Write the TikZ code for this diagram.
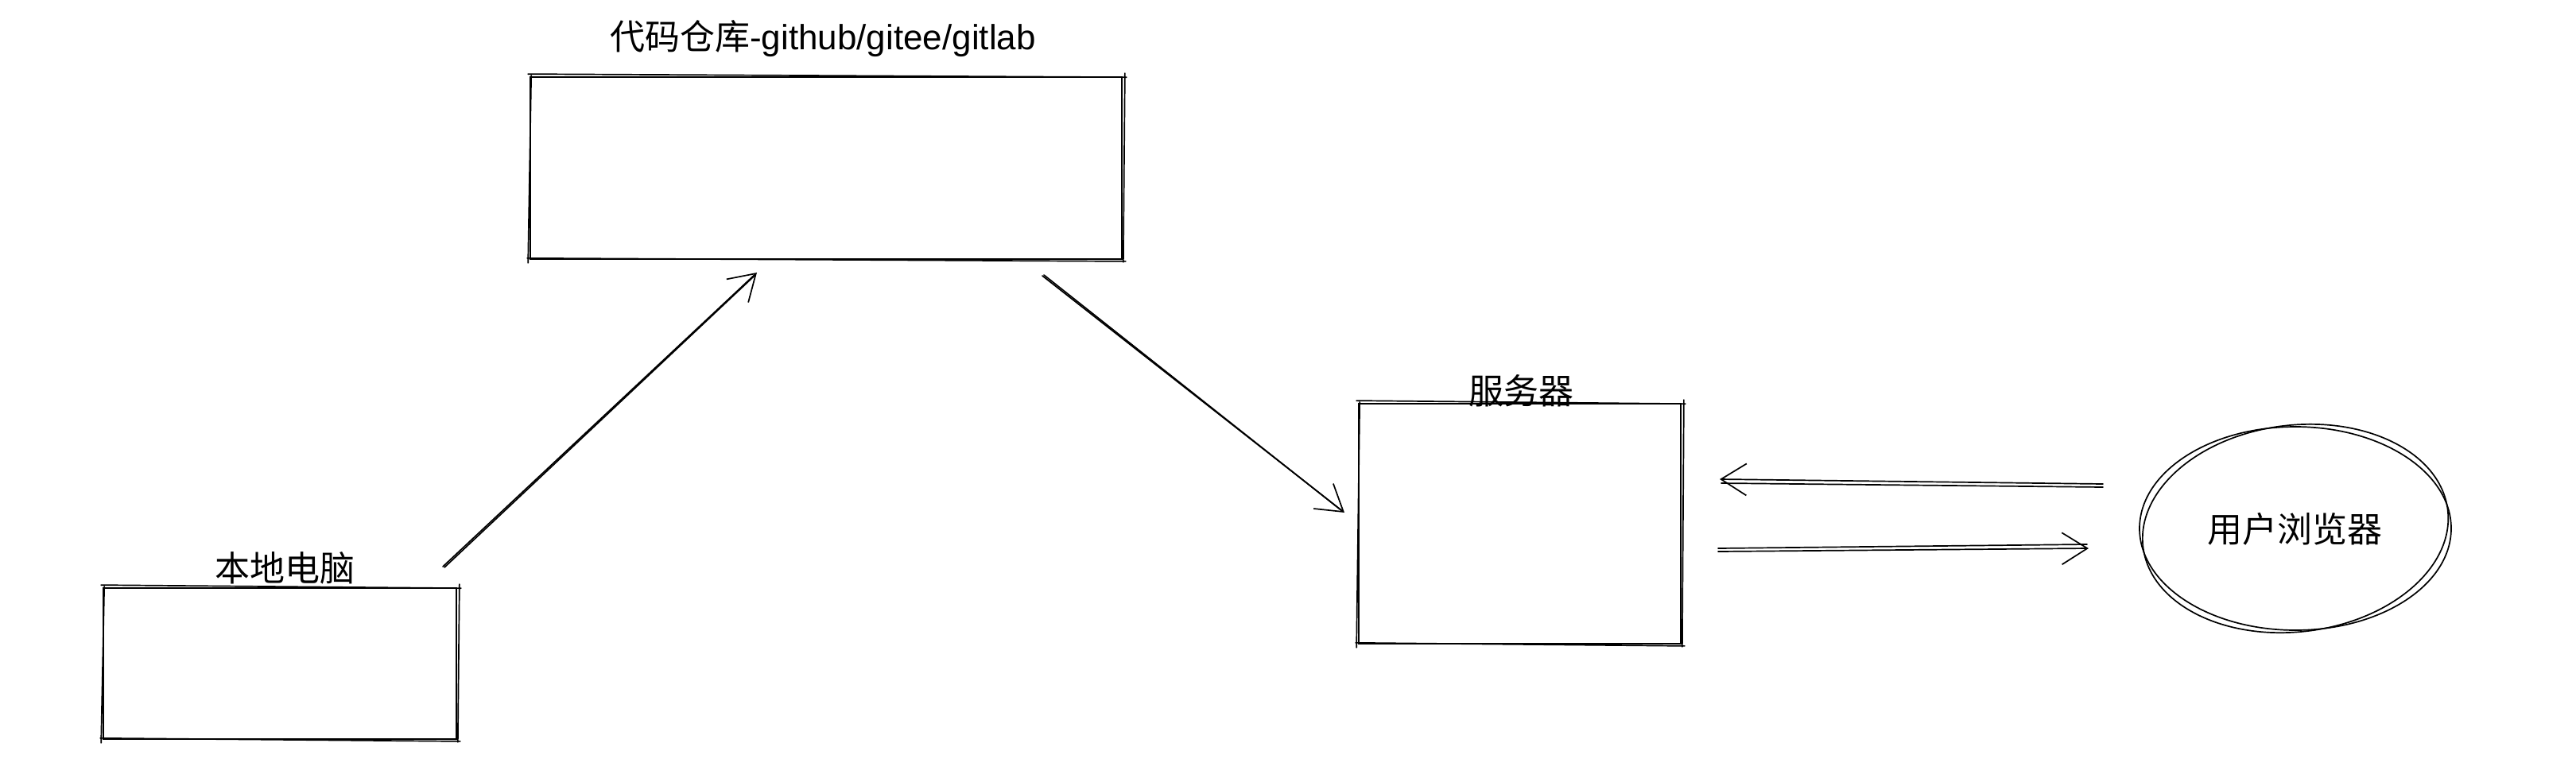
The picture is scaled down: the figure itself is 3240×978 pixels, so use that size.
\documentclass[tikz,border=0pt]{standalone}
\usepackage{fontspec}
\setmainfont{Liberation Sans}
\newfontfamily\cjk{Noto Sans CJK SC}
\usetikzlibrary{arrows.meta,shapes.geometric,calc}
\newcommand{\skrect}[1]{%
  \draw[sk] ([shift={(-2,-3)}]#1.north west) -- ([shift={(5,1)}]#1.north east)
            ([shift={(3,-4)}]#1.north east) -- ([shift={(1,3)}]#1.south east)
            ([shift={(4,2)}]#1.south east) -- ([shift={(-3,-2)}]#1.south west)
            ([shift={(-2,4)}]#1.south west) -- ([shift={(2,-1)}]#1.north west);
}
\begin{document}
\begin{tikzpicture}[x=1pt,y=-1pt,
  sk/.style={line width=1.7pt, black, line cap=round},
  box/.style={sk, draw, rectangle, inner sep=0pt},
  lbl/.style={font=\fontsize{44pt}{50pt}\selectfont, inner sep=0pt, anchor=base},
  arr/.style={sk, -{Straight Barb[length=32pt,width=40pt]}},
]
\fill[white] (0,0) rectangle (3240,978);
\useasboundingbox (0,0) rectangle (3240,978);

% boxes
\node[box, minimum width=744pt, minimum height=229pt] (repo) at (1039,211.5) {};
\node[box, minimum width=444pt, minimum height=190pt] (loc) at (352,835) {};
\node[box, minimum width=405pt, minimum height=302pt] (srv) at (1911.5,659) {};
\node[sk, draw, ellipse, minimum width=392pt, minimum height=256pt, inner sep=0pt] (brw) at (2887,665) {};
\skrect{repo}
\skrect{loc}
\skrect{srv}
\draw[sk, rotate around={7:(brw.center)}] (brw.center) ellipse [x radius=193, y radius=130];

% labels
\node[lbl] (repoL) at (1035,62) {{\cjk 代码仓库}-github/gitee/gitlab};
\node[lbl] (locL) at (358,731) {\cjk 本地电脑};
\node[lbl] (srvL) at (1913,508) {\cjk 服务器};
\node[lbl] (brwL) at (2886,682) {\cjk 用户浏览器};

% connectors
\coordinate (a1s) at (557,713); \coordinate (a1e) at (952,343);
\draw[arr] (a1s) -- (a1e);
\draw[sk] ($(a1s)+(2,1)$) -- ($(a1e)+(-2,3)$);

\coordinate (a2s) at (1311,347); \coordinate (a2e) at (1691,645);
\draw[arr] (a2s) -- (a2e);
\draw[sk] ($(a2s)+(2,-1)$) -- ($(a2e)+(-3,-2)$);

\coordinate (a3s) at (2645,609); \coordinate (a3e) at (2163,603);
\draw[arr] (a3s) -- (a3e);
\draw[sk] ($(a3s)+(0,4)$) -- ($(a3e)+(2,5)$);

\coordinate (a4s) at (2161,694); \coordinate (a4e) at (2627,690);
\draw[arr] (a4s) -- (a4e);
\draw[sk] ($(a4s)+(0,-4)$) -- ($(a4e)+(-2,-5)$);
\end{tikzpicture}
\end{document}
